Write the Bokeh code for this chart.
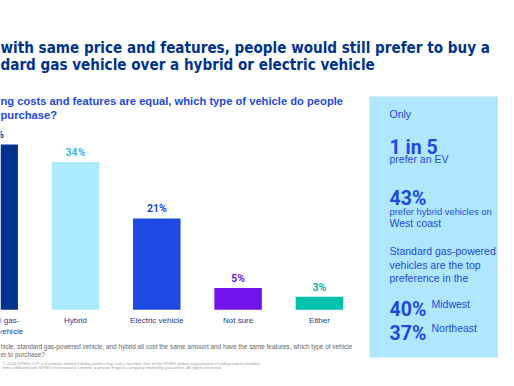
from bokeh.plotting import figure
from bokeh.models import Range1d, Label, BoxAnnotation, ColumnDataSource
from bokeh.core.properties import value
from bokeh.embed import file_html
from bokeh.resources import INLINE

# ---------------- data ----------------
categories = ["Standard gas-\npowered vehicle", "Hybrid", "Electric vehicle", "Not sure", "Either"]
shares = [38, 34, 21, 5, 3]
bar_colors = ["#00338D", "#ACEAFF", "#1E49E2", "#7213EA", "#00C0AE"]
label_colors = ["#00338D", "#3DB7E8", "#1E49E2", "#7213EA", "#00B8A9"]

title_lines = ["with same price and features, people would still prefer to buy a",
               "dard gas vehicle over a hybrid or electric vehicle"]
subtitle_lines = ["ng costs and features are equal, which type of vehicle do people",
                  "purchase?"]
footnote_lines = ["hicle, standard gas-powered vehicle, and hybrid all cost the same amount and have the same features, which type of vehicle",
                  "er to purchase?"]
copyright_lines = ["\u00a9 2024 KPMG LLP, a Delaware limited liability partnership and a member firm of the KPMG global organization of independent member",
                   "firms affiliated with KPMG International Limited, a private English company limited by guarantee. All rights reserved."]

W, H = 498, 370
COND = "DejaVu Sans Condensed"
NUM = "Roboto"
SANS = "Liberation Sans"

def sx(ix):
    return ix

def sy(iy):
    return H - iy

p = figure(width=W, height=H, x_range=Range1d(0.0775, 6.203), y_range=Range1d(-13.95, 71.10),
           output_backend="svg", toolbar_location=None, min_border=0,
           x_axis_type=None, y_axis_type=None)
p.grid.visible = False
p.outline_line_color = None
p.background_fill_color = "white"
p.border_fill_color = "white"

# right info panel
p.add_layout(BoxAnnotation(left=sx(369), right=W + 5, top=sy(96), bottom=sy(357),
                           left_units="screen", right_units="screen",
                           top_units="screen", bottom_units="screen",
                           fill_color="#B0E7FC", fill_alpha=1.0, line_color=None, level="underlay"))

src = ColumnDataSource(dict(
    x=list(range(len(categories))),
    top=shares,
    cat=categories,
    color=bar_colors,
    lcolor=label_colors,
    lab=[f"{v}%" for v in shares],
))

p.vbar(x="x", top="top", bottom=0, width=0.584, color="color", line_color=None, source=src)
p.text(x="x", y="top", text="lab", text_color="lcolor", source=src,
       text_font=value(NUM), text_font_style="bold", text_font_size="10.5px",
       text_align="center", text_baseline="bottom", y_offset=-3)
p.text(x="x", y=0, text="cat", source=src, text_color="#2A3A8C",
       text_font=value(SANS), text_font_size="8px",
       text_align="center", text_baseline="top", y_offset=6.5, text_line_height=1.15)

def add_label(text, ix, iy, size, color, font=SANS, style="normal", baseline="middle", align="left"):
    p.add_layout(Label(x=sx(ix), y=sy(iy), x_units="screen", y_units="screen", text=text,
                       text_font=font, text_font_size=size, text_font_style=style,
                       text_color=color, text_baseline=baseline, text_align=align))

# title
add_label(title_lines[0], 0, 47, "15.1px", "#00338D", COND, "bold", "alphabetic")
add_label(title_lines[1], 0, 64, "15.1px", "#00338D", COND, "bold", "alphabetic")
# subtitle
add_label(subtitle_lines[0], 0, 100, "11.2px", "#1E49E2", SANS, "bold")
add_label(subtitle_lines[1], 0, 114.5, "11.2px", "#1E49E2", SANS, "bold")
# footnote
add_label(footnote_lines[0], 0, 346, "6.4px", "#666666")
add_label(footnote_lines[1], 0, 353.5, "6.4px", "#666666")
add_label(copyright_lines[0], 2, 362.5, "4.3px", "#A0A0A0")
add_label(copyright_lines[1], 2, 367.3, "4.3px", "#A0A0A0")

# panel texts
PX = 389
BLUE = "#1E49E2"
add_label("Only", PX, 113.3, "10.5px", BLUE)
add_label("1 in 5", PX, 146.5, "19.5px", BLUE, NUM, "bold", "alphabetic")
add_label("prefer an EV", PX, 158.7, "10.5px", BLUE)
add_label("43%", PX, 197.5, "19.5px", BLUE, NUM, "bold", "alphabetic")
add_label("prefer hybrid vehicles on", PX, 210.7, "9.4px", BLUE)
add_label("West coast", PX, 222.7, "10.5px", BLUE)
add_label("Standard gas-powered", PX, 250, "10.5px", BLUE)
add_label("vehicles are the top", PX, 264, "10.5px", BLUE)
add_label("preference in the", PX, 277.7, "10.5px", BLUE)
add_label("40%", PX, 309, "19.5px", BLUE, NUM, "bold", "alphabetic")
add_label("Midwest", 431, 303, "10.5px", BLUE)
add_label("37%", PX, 332.5, "19.5px", BLUE, NUM, "bold", "alphabetic")
add_label("Northeast", 431, 327, "10.5px", BLUE)

open("out.html", "w").write(file_html(p, INLINE))
